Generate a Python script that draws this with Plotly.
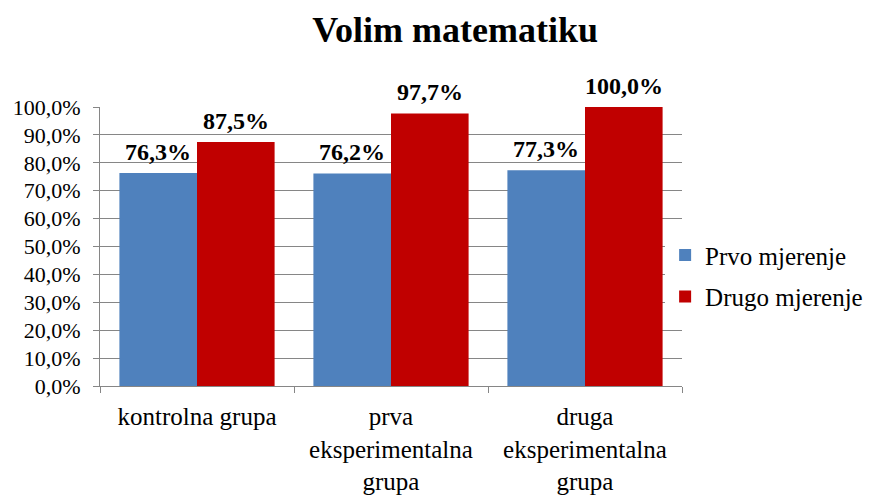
import plotly.graph_objects as go

categories = ["kontrolna grupa", "prva<br>eksperimentalna<br>grupa", "druga<br>eksperimentalna<br>grupa"]
prvo = [76.3, 76.2, 77.3]
drugo = [87.5, 97.7, 100.0]
series_names = ["Prvo mjerenje", "Drugo mjerenje"]
tick_values = [0, 10, 20, 30, 40, 50, 60, 70, 80, 90, 100]

FONT = "Liberation Serif"
BLUE = "#4F81BD"
RED = "#C00000"
GRID = "#868686"
BAR_OFFSET = 0.2  # half of a bar slot within a group (bargap 0.2, two bars)


def label(v):
    return f"{v:.1f}%".replace(".", ",")


fig = go.Figure()
series = [(series_names[0], prvo, BLUE, -BAR_OFFSET), (series_names[1], drugo, RED, BAR_OFFSET)]
for name, vals, color, off in series:
    fig.add_trace(go.Bar(
        x=categories, y=vals, name=name, legendgroup=name,
        marker=dict(color=color, line=dict(width=0)),
    ))
    for i, v in enumerate(vals):
        fig.add_annotation(
            x=i + off, y=v, xref="x", yref="y",
            text=f"<b>{label(v)}</b>", showarrow=False,
            yanchor="bottom", xanchor="center", yshift=6,
            font=dict(family=FONT, size=24, color="black"),
        )

fig.update_layout(
    width=872, height=498,
    margin=dict(l=100, r=190, t=107, b=112, autoexpand=False),
    paper_bgcolor="white", plot_bgcolor="white",
    barmode="group", bargap=0.2, bargroupgap=0,
    font=dict(family=FONT, color="black"),
    title=dict(text="<b>Volim matematiku</b>", x=0.522, xanchor="center",
               y=0.94, yanchor="middle", font=dict(family=FONT, size=36, color="black")),
    legend=dict(x=0.971, xanchor="left", y=0.395, yanchor="middle",
                font=dict(family=FONT, size=25, color="black"),
                traceorder="grouped", tracegroupgap=6, itemwidth=30),
    showlegend=True,
)
fig.update_yaxes(
    range=[0, 100], tickvals=tick_values, ticktext=[label(v) for v in tick_values],
    showgrid=True, gridcolor=GRID, gridwidth=1,
    showline=True, linecolor=GRID, linewidth=1,
    ticks="outside", ticklen=6, tickcolor=GRID, ticklabelstandoff=8,
    tickfont=dict(family=FONT, size=22, color="black"),
    zeroline=False,
)
fig.update_xaxes(
    showline=True, linecolor=GRID, linewidth=1,
    ticks="outside", ticklen=6, tickcolor=GRID, tickson="boundaries",
    ticklabelstandoff=8,
    tickfont=dict(family=FONT, size=25, color="black"),
    tickangle=0,
)

fig.write_html("out.html")
